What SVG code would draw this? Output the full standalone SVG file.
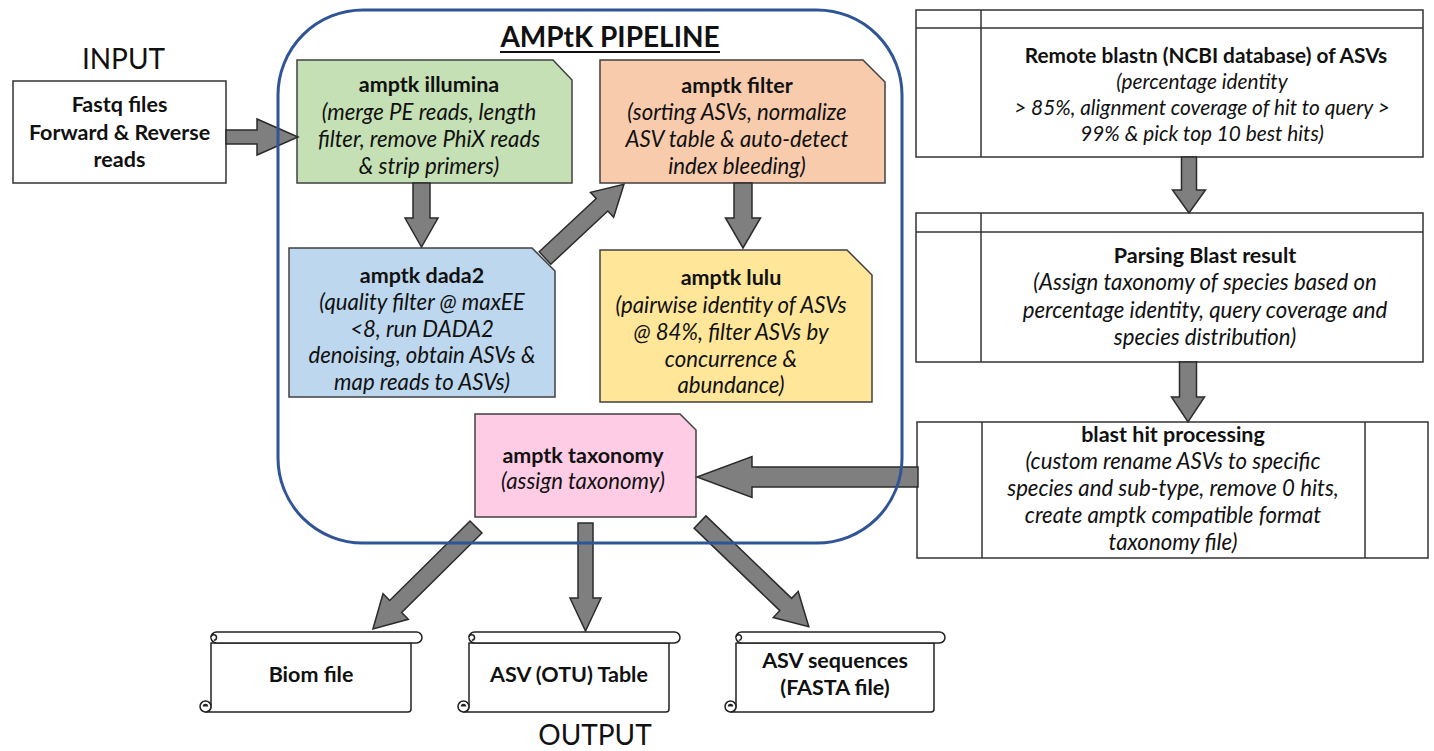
<svg xmlns="http://www.w3.org/2000/svg" width="1434" height="751" viewBox="0 0 1434 751">
<style>
text{font-family:Lato,"Liberation Sans",sans-serif;fill:#111;text-anchor:middle}
.t{font-size:22.2px}
.b{font-weight:bold;font-size:21.5px}
.i{font-style:italic}
.s{font-size:20.8px}
.lbl{font-size:28px}
.box{stroke:#404040;stroke-width:1.5}
.wbox{fill:#fff;stroke:#333;stroke-width:1.5}
.arrow{fill:#7f7f7f;stroke:#2b2b2b;stroke-width:1.5;stroke-linejoin:miter}
.scroll{fill:#fff;stroke:#222;stroke-width:1.5;stroke-linejoin:round}
</style>
<rect width="1434" height="751" fill="#fff"/>

<g id="labels">
<text class="lbl" x="123.5" y="69">INPUT</text>
<text class="lbl" x="595" y="745">OUTPUT</text>
</g>

<g id="input">
<rect class="wbox" x="13" y="81" width="213" height="102"/>
<text class="t b" x="119.5" y="112">Fastq files</text>
<text class="t b" x="119.5" y="140">Forward &amp; Reverse</text>
<text class="t b" x="119.5" y="167">reads</text>
</g>

<g id="amptk-illumina">
<path class="box" fill="#c5e0b4" d="M297,60 H553 L572,80 V183 H297 Z"/>
<text class="t b" x="429" y="92">amptk illumina</text>
<text class="t i" x="429" y="120">(merge PE reads, length</text>
<text class="t i" x="429" y="147">filter, remove PhiX reads</text>
<text class="t i" x="429" y="174">&amp; strip primers)</text>
</g>

<g id="amptk-filter">
<path class="box" fill="#f8cbad" d="M600,60 H863 L885,82 V183 H600 Z"/>
<text class="t b" x="737" y="93">amptk filter</text>
<text class="t i" x="737" y="120">(sorting ASVs, normalize</text>
<text class="t i" x="737" y="147">ASV table &amp; auto-detect</text>
<text class="t i" x="737" y="174">index bleeding)</text>
</g>

<g id="amptk-dada2">
<path class="box" fill="#bdd7ee" d="M289,248 H532 L555,271 V397 H289 Z"/>
<text class="t b" x="422" y="283">amptk dada2</text>
<text class="t i" x="422" y="310">(quality filter @ maxEE</text>
<text class="t i" x="422" y="337">&lt;8, run DADA2</text>
<text class="t i" x="422" y="363">denoising, obtain ASVs &amp;</text>
<text class="t i" x="422" y="390">map reads to ASVs)</text>
</g>

<g id="amptk-lulu">
<path class="box" fill="#ffe699" d="M600,250 H847 L872,275 V402 H600 Z"/>
<text class="t b" x="731" y="285">amptk lulu</text>
<text class="t i" x="731" y="313">(pairwise identity of ASVs</text>
<text class="t i" x="731" y="340">@ 84%, filter ASVs by</text>
<text class="t i" x="731" y="367">concurrence &amp;</text>
<text class="t i" x="731" y="393">abundance)</text>
</g>

<g id="amptk-taxonomy">
<path class="box" fill="#ffcce5" d="M475,414 H680 L696,430 V517 H475 Z"/>
<text class="t b" x="583" y="463">amptk taxonomy</text>
<text class="t i" x="583" y="489">(assign taxonomy)</text>
</g>

<g id="remote-blastn">
<rect class="wbox" x="916" y="10" width="507" height="147"/>
<line class="wbox" x1="916" y1="28" x2="1423" y2="28"/>
<line class="wbox" x1="981" y1="10" x2="981" y2="157"/>
<text class="b" x="1206" y="63" style="font-size:20.8px">Remote blastn (NCBI database) of ASVs</text>
<text class="s i" x="1202" y="89">(percentage identity</text>
<text class="s i" x="1202" y="115">&gt; 85%, alignment coverage of hit to query &gt;</text>
<text class="s i" x="1202" y="141">99% &amp; pick top 10 best hits)</text>
</g>

<g id="parsing-blast">
<rect class="wbox" x="916" y="213" width="507" height="149"/>
<line class="wbox" x1="916" y1="232" x2="1423" y2="232"/>
<line class="wbox" x1="981" y1="213" x2="981" y2="362"/>
<text class="t b" x="1205" y="263">Parsing Blast result</text>
<text class="t i" x="1205" y="290">(Assign taxonomy of species based on</text>
<text class="t i" x="1205" y="318">percentage identity, query coverage and</text>
<text class="t i" x="1205" y="345">species distribution)</text>
</g>

<g id="blast-hit-processing">
<rect class="wbox" x="917" y="422" width="511" height="136"/>
<line class="wbox" x1="982" y1="422" x2="982" y2="558"/>
<line class="wbox" x1="1365" y1="422" x2="1365" y2="558"/>
<text class="t b" x="1173" y="442">blast hit processing</text>
<text class="t i" x="1173" y="469">(custom rename ASVs to specific</text>
<text class="t i" x="1173" y="496">species and sub-type, remove 0 hits,</text>
<text class="t i" x="1173" y="523">create amptk compatible format</text>
<text class="t i" x="1173" y="550">taxonomy file)</text>
</g>

<g id="biom-file">
<path class="scroll" d="M211,643 V706.5 A5.5,5.5 0 0 1 205.5,712 H408 Q411,712 411,709 V643 Z"/>
<circle class="scroll" cx="205.5" cy="706.5" r="5.5"/>
<path fill="#222" d="M205.5,706.5 m-2.75,0 a2.75,2.75 0 0 1 5.5,0 Z"/>
<rect class="scroll" x="211" y="632" width="211" height="11" rx="5.5"/>
<path class="scroll" fill="none" d="M211,637.5 a2.75,2.75 0 0 1 5.5,0 a2.75,2.75 0 0 1 -2.75,2.75"/>
<text class="t b" x="311" y="682">Biom file</text>
</g>

<g id="asv-table">
<path class="scroll" d="M469,643 V706.5 A5.5,5.5 0 0 1 463.5,712 H666 Q669,712 669,709 V643 Z"/>
<circle class="scroll" cx="463.5" cy="706.5" r="5.5"/>
<path fill="#222" d="M463.5,706.5 m-2.75,0 a2.75,2.75 0 0 1 5.5,0 Z"/>
<rect class="scroll" x="469" y="632" width="211" height="11" rx="5.5"/>
<path class="scroll" fill="none" d="M469,637.5 a2.75,2.75 0 0 1 5.5,0 a2.75,2.75 0 0 1 -2.75,2.75"/>
<text class="t b" x="569" y="682">ASV (OTU) Table</text>
</g>

<g id="asv-sequences">
<path class="scroll" d="M736,643 V706.5 A5.5,5.5 0 0 1 730.5,712 H931 Q934,712 934,709 V643 Z"/>
<circle class="scroll" cx="730.5" cy="706.5" r="5.5"/>
<path fill="#222" d="M730.5,706.5 m-2.75,0 a2.75,2.75 0 0 1 5.5,0 Z"/>
<rect class="scroll" x="736" y="632" width="209" height="11" rx="5.5"/>
<path class="scroll" fill="none" d="M736,637.5 a2.75,2.75 0 0 1 5.5,0 a2.75,2.75 0 0 1 -2.75,2.75"/>
<text class="t b" x="835" y="668">ASV sequences</text>
<text class="t b" x="835" y="695">(FASTA file)</text>
</g>

<g id="connectors">
<polygon class="arrow" transform="translate(226,137)" points="0,-7 31,-7 31,-18 72,0 31,18 31,7 0,7"/>
<polygon class="arrow" transform="translate(421.5,183) rotate(90)" points="0,-8.5 35,-8.5 35,-16.5 64,0 35,16.5 35,8.5 0,8.5"/>
<polygon class="arrow" transform="translate(545,258) rotate(-43)" points="0,-8.5 78,-8.5 78,-17 108,0 78,17 78,8.5 0,8.5"/>
<polygon class="arrow" transform="translate(743,183) rotate(90)" points="0,-9 35,-9 35,-17.5 65,0 35,17.5 35,9 0,9"/>
<polygon class="arrow" transform="translate(918,477) rotate(180)" points="0,-10 166,-10 166,-20.5 221,0 166,20.5 166,10 0,10"/>
<polygon class="arrow" transform="translate(1189,157) rotate(90)" points="0,-7.5 33,-7.5 33,-16.5 56,0 33,16.5 33,7.5 0,7.5"/>
<polygon class="arrow" transform="translate(1188,362) rotate(90)" points="0,-8.5 35,-8.5 35,-16.5 60,0 35,16.5 35,8.5 0,8.5"/>
<polygon class="arrow" transform="translate(476,527) rotate(135.3)" points="0,-8.5 113,-8.5 113,-18 145,0 113,18 113,8.5 0,8.5"/>
<polygon class="arrow" transform="translate(585.5,523) rotate(90)" points="0,-7.5 75,-7.5 75,-15.5 108,0 75,15.5 75,7.5 0,7.5"/>
<polygon class="arrow" transform="translate(700,522) rotate(43.9)" points="0,-8.5 119,-8.5 119,-18 151,0 119,18 119,8.5 0,8.5"/>
</g>

<g id="amptk-pipeline">
<rect x="278" y="10" width="624" height="533" rx="85" fill="none" stroke="#2f5597" stroke-width="3"/>
<text class="b" x="610" y="47" style="font-size:28px">AMPtK PIPELINE</text>
<line x1="500" y1="52" x2="720" y2="52" stroke="#111" stroke-width="2"/>
</g>
</svg>
